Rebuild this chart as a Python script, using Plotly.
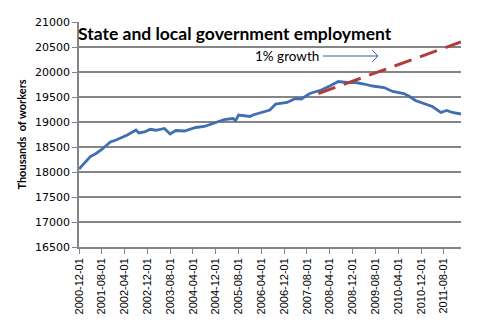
import plotly.graph_objects as go

# Blue series: state and local government employment (thousands)
emp_dates = [
    "2000-12-01", "2001-02-01", "2001-04-01", "2001-06-01", "2001-08-01", "2001-11-01",
    "2002-01-01", "2002-05-01", "2002-08-01", "2002-09-01", "2002-11-01", "2003-01-01",
    "2003-03-01", "2003-06-01", "2003-08-01", "2003-10-01", "2004-01-01", "2004-05-01",
    "2004-08-01", "2004-12-01", "2005-03-01", "2005-06-01", "2005-07-01", "2005-08-01",
    "2005-12-01", "2006-01-01", "2006-05-01", "2006-07-01", "2006-09-01", "2007-01-01",
    "2007-04-01", "2007-06-01", "2007-09-01", "2008-01-01", "2008-04-01", "2008-07-01",
    "2008-10-01", "2009-01-01", "2009-04-01", "2009-07-01", "2009-11-01", "2010-02-01",
    "2010-06-01", "2010-08-01", "2010-10-01", "2011-01-01", "2011-04-01", "2011-07-01",
    "2011-09-01", "2011-11-01", "2012-02-01",
]
emp_values = [
    18060, 18200, 18310, 18370, 18450, 18600,
    18640, 18740, 18840, 18780, 18800, 18855,
    18835, 18870, 18760, 18830, 18820, 18890,
    18910, 18990, 19050, 19070, 19030, 19140,
    19110, 19140, 19210, 19240, 19360, 19390,
    19470, 19460, 19570, 19640, 19720, 19810,
    19790, 19790, 19760, 19720, 19690, 19610,
    19570, 19510, 19430, 19370, 19310, 19190,
    19230, 19190, 19160,
]

# Red dashed series: 1% growth path
growth_dates = ["2007-12-01", "2008-12-01", "2009-12-01", "2010-12-01", "2011-12-01", "2012-02-01"]
growth_values = [19570, 19820, 20070, 20320, 20560, 20600]

y_range = [16500, 21000]
y_step = 500
x_range = ["2000-12-01", "2012-02-01"]

title_text = "State and local government employment"
y_title = "Thousands  of workers"
note_text = "1% growth"

fig = go.Figure()
fig.add_trace(go.Scatter(x=emp_dates, y=emp_values, mode="lines",
                         line=dict(color="#3f6fb0", width=2.8), showlegend=False))
fig.add_trace(go.Scatter(x=growth_dates, y=growth_values, mode="lines",
                         line=dict(color="#b23c3c", width=3, dash="18px,9px"), showlegend=False))

fig.update_layout(
    width=480, height=333,
    margin=dict(l=79, r=19, t=22, b=86),
    paper_bgcolor="white", plot_bgcolor="white",
    xaxis=dict(type="date", range=x_range, tick0="2000-12-01", dtick="M8",
               tickformat="%Y-%m-%d", tickangle=-90, showgrid=False,
               showline=True, linecolor="#858585", linewidth=1.5,
               ticks="outside", ticklen=5, tickcolor="#858585",
               tickfont=dict(family="Liberation Sans", size=11, color="black")),
    yaxis=dict(range=y_range, dtick=y_step, tickformat="d", showgrid=True, gridcolor="#858585",
               gridwidth=1.5, showline=True, linecolor="#858585", linewidth=1.5,
               ticks="outside", ticklen=5, tickcolor="#858585", zeroline=False,
               tickfont=dict(family="DejaVu Sans", size=11, color="black"),
               title=dict(text="<b>" + y_title + "</b>", standoff=6,
                          font=dict(family="Lato", size=11, color="black"))),
    font=dict(family="Lato"),
)

fig.add_annotation(text="<b>" + title_text + "</b>", xref="paper", yref="paper",
                   x=-0.008, y=1.005, xanchor="left", yanchor="top", showarrow=False,
                   font=dict(family="Lato", size=17.5, color="black"))
fig.add_annotation(text=note_text, xref="paper", yref="paper",
                   x=(253 - 79) / 382, y=(247 - 56) / 225, xanchor="left", yanchor="middle",
                   showarrow=False, font=dict(family="Lato", size=13.5, color="black"))

arrow_color = "#3d5f8f"
ax0, ax1, ay = (323 - 79) / 382, (378 - 79) / 382, (247 - 56) / 225
hx = (372 - 79) / 382
fig.add_shape(type="line", xref="paper", yref="paper", x0=ax0, x1=ax1, y0=ay, y1=ay,
              line=dict(color=arrow_color, width=1))
fig.add_shape(type="line", xref="paper", yref="paper", x0=hx, x1=ax1,
              y0=(247 - 50) / 225, y1=ay, line=dict(color=arrow_color, width=1))
fig.add_shape(type="line", xref="paper", yref="paper", x0=hx, x1=ax1,
              y0=(247 - 62) / 225, y1=ay, line=dict(color=arrow_color, width=1))

fig.write_html("out.html")
